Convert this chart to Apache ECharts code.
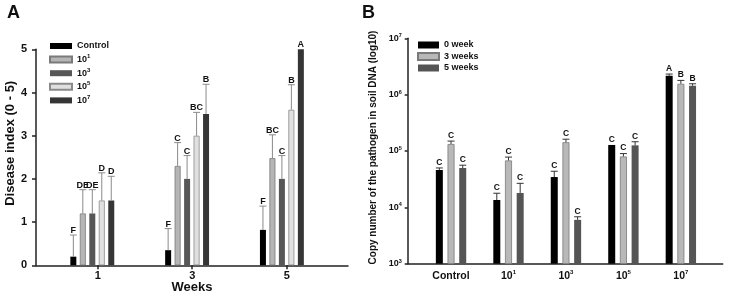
<!DOCTYPE html>
<html>
<head>
<meta charset="utf-8">
<script src="https://cdn.jsdelivr.net/npm/echarts@6/dist/echarts.min.js"></script>
<style>
html, body { margin: 0; padding: 0; background: #fff; }
#chart { width: 729px; height: 297px; }
</style>
</head>
<body>
<div id="chart"></div>
<script>
// ---- panel A: disease index by week ----
const weeks = [1, 3, 5];
const doseNames = ['Control', '10^1', '10^3', '10^5', '10^7'];
const controlIndex = [0.2, 0.35, 0.82];
const dose1Index = [1.2, 2.3, 2.48];
const dose3Index = [1.2, 2.0, 2.0];
const dose5Index = [1.5, 3.0, 3.6];
const dose7Index = [1.5, 3.5, 5.0];
const controlErr = [0.5, 0.5, 0.55];
const dose1Err = [0.55, 0.54, 0.54];
const dose3Err = [0.55, 0.54, 0.54];
const dose5Err = [0.64, 0.54, 0.58];
const dose7Err = [0.56, 0.69, 0];
const controlLetters = ['F', 'F', 'F'];
const dose1Letters = ['DE', 'C', 'BC'];
const dose3Letters = ['DE', 'C', 'C'];
const dose5Letters = ['D', 'BC', 'B'];
const dose7Letters = ['D', 'B', 'A'];

// ---- panel B: copy number in soil DNA ----
const treatments = ['Control', '10^1', '10^3', '10^5', '10^7'];
const timeNames = ['0 week', '3 weeks', '5 weeks'];
const week0Copies = [4.6e4, 1.35e4, 3.45e4, 1.28e5, 2.17e6];
const week3Copies = [1.33e5, 6.8e4, 1.43e5, 8.0e4, 1.56e6];
const week5Copies = [5.0e4, 1.8e4, 6.0e3, 1.26e5, 1.44e6];
const week0Err = [4e3, 4.3e3, 9.2e3, 0, 1.5e5];
const week3Err = [1.7e4, 1e4, 1.9e4, 1e4, 2.3e5];
const week5Err = [6e3, 8.7e3, 8e2, 2e4, 1.2e5];
const week0Letters = ['C', 'C', 'C', 'C', 'A'];
const week3Letters = ['C', 'C', 'C', 'C', 'B'];
const week5Letters = ['C', 'C', 'C', 'C', 'B'];

const FONT = '"Liberation Sans", Arial, sans-serif';
const AXIS = { color: '#222', width: 1.5 };

// "10^3" -> rich text with superscript
function sup(s) {
  const p = String(s).split('^');
  return p.length > 1 ? '{b|' + p[0] + '}{s|' + p[1] + '}' : '{b|' + s + '}';
}
function richStyle(size, supSize, lh) {
  return {
    b: { fontSize: size, fontWeight: 'bold', fontFamily: FONT, color: '#111', lineHeight: lh },
    s: { fontSize: supSize, fontWeight: 'bold', fontFamily: FONT, color: '#111', verticalAlign: 'top', lineHeight: supSize + 1 }
  };
}

// error bar (upper half only) + letter, positioned on bar k of n
function errSeries(name, axisIdx, means, errs, letters, k, n, barW, gap, capW, color, fontSize, lift) {
  return {
    type: 'custom',
    name: name,
    xAxisIndex: axisIdx,
    yAxisIndex: axisIdx,
    z: 5,
    silent: true,
    data: means.map((m, i) => [i, m, m + errs[i], errs[i]]),
    renderItem: function (params, api) {
      const base = api.coord([api.value(0), api.value(1)]);
      const top = api.coord([api.value(0), api.value(2)]);
      const total = n * barW + (n - 1) * barW * gap;
      const cx = base[0] - total / 2 + barW / 2 + k * barW * (1 + gap);
      const children = [];
      if (api.value(3) > 0) {
        children.push({ type: 'line', shape: { x1: cx, y1: base[1], x2: cx, y2: top[1] }, style: { stroke: color, lineWidth: 1 } });
        children.push({ type: 'line', shape: { x1: cx - capW / 2, y1: top[1], x2: cx + capW / 2, y2: top[1] }, style: { stroke: color, lineWidth: 1 } });
      }
      children.push({
        type: 'text',
        x: cx, y: top[1] - lift,
        style: {
          text: letters[params.dataIndex],
          fill: '#111', fontSize: fontSize, fontWeight: 'bold', fontFamily: FONT,
          align: 'center', verticalAlign: 'bottom'
        }
      });
      return { type: 'group', children: children };
    }
  };
}

const chart = echarts.init(document.getElementById('chart'));

const aMeans = [controlIndex, dose1Index, dose3Index, dose5Index, dose7Index];
const aErrs = [controlErr, dose1Err, dose3Err, dose5Err, dose7Err];
const aLetters = [controlLetters, dose1Letters, dose3Letters, dose5Letters, dose7Letters];
const aStyles = [
  { color: '#000' },
  { color: '#b5b5b5', borderColor: '#7a7a7a', borderWidth: 0.8 },
  { color: '#575757' },
  { color: '#e0e0e0', borderColor: '#8a8a8a', borderWidth: 0.8 },
  { color: '#353535' }
];
const bMeans = [week0Copies, week3Copies, week5Copies];
const bErrs = [week0Err, week3Err, week5Err];
const bLetters = [week0Letters, week3Letters, week5Letters];
const bStyles = [
  { color: '#000' },
  { color: '#b8b8b8', borderColor: '#7a7a7a', borderWidth: 0.8 },
  { color: '#555' }
];

const series = [];
doseNames.forEach((name, k) => {
  series.push({
    type: 'bar', name: name, xAxisIndex: 0, yAxisIndex: 0,
    data: aMeans[k], barWidth: 6, barGap: '58%', itemStyle: aStyles[k], silent: true
  });
});
doseNames.forEach((name, k) => {
  series.push(errSeries('errA' + k, 0, aMeans[k], aErrs[k], aLetters[k], k, 5, 6, 0.58, 7, '#8a8a8a', 9, 0));
});
timeNames.forEach((name, k) => {
  series.push({
    type: 'bar', name: name, xAxisIndex: 2, yAxisIndex: 2,
    data: bMeans[k], barWidth: 7, barGap: '67%', itemStyle: bStyles[k], silent: true
  });
});
timeNames.forEach((name, k) => {
  series.push(errSeries('errB' + k, 2, bMeans[k], bErrs[k], bLetters[k], k, 3, 7, 0.67, 7, '#333', 8.5, 1));
});

const option = {
  animation: false,
  backgroundColor: '#fff',
  title: [
    { text: 'A', left: 7, top: 4, padding: 0, textStyle: { fontSize: 18, fontWeight: 'bold', fontFamily: FONT, color: '#111' } },
    { text: 'B', left: 362, top: 4, padding: 0, textStyle: { fontSize: 18, fontWeight: 'bold', fontFamily: FONT, color: '#111' } }
  ],
  legend: [
    {
      data: doseNames, orient: 'vertical', left: 49, top: 41.5, padding: 0,
      itemWidth: 22, itemHeight: 6, itemGap: 3.1, icon: 'rect',
      formatter: sup, textStyle: { rich: richStyle(9, 6, 12) }
    },
    {
      data: timeNames, orient: 'vertical', left: 417, top: 40.5, padding: 0,
      itemWidth: 21, itemHeight: 7, itemGap: 2.5, icon: 'rect',
      formatter: sup, textStyle: { rich: richStyle(9, 6, 12) }
    }
  ],
  grid: [
    { left: 44.9, right: 399.7, top: 49.3, bottom: 31.7, outerBoundsMode: 'none', containLabel: false },
    { left: 36, right: 381, top: 49.3, bottom: 31.7, outerBoundsMode: 'none', containLabel: false },
    { left: 422.3, right: 19.4, top: 38.3, bottom: 33.3, outerBoundsMode: 'none', containLabel: false },
    { left: 407.7, right: 6.3, top: 38.3, bottom: 33.3, outerBoundsMode: 'none', containLabel: false }
  ],
  xAxis: [
    { gridIndex: 0, type: 'category', data: weeks.map(String), show: false },
    {
      gridIndex: 1, type: 'value', min: -0.306, max: 6.297,
      axisLine: { onZero: false, lineStyle: AXIS },
      axisTick: { customValues: weeks, length: 4, lineStyle: AXIS },
      axisLabel: { customValues: weeks, margin: 5, fontSize: 11, fontWeight: 'bold', fontFamily: FONT, color: '#111' },
      splitLine: { show: false },
      name: 'Weeks', nameLocation: 'middle', nameGap: 15.5, nameMoveOverlap: false,
      nameTextStyle: { fontSize: 13, fontWeight: 'bold', fontFamily: FONT, color: '#111' }
    },
    {
      gridIndex: 2, type: 'category', data: treatments,
      axisLine: { show: false },
      axisTick: { alignWithLabel: true, length: 3, lineStyle: AXIS },
      axisLabel: { interval: 0, margin: 6, formatter: sup, rich: richStyle(10.5, 6, 12) }
    },
    {
      gridIndex: 3, type: 'value', min: 0, max: 1,
      axisLine: { onZero: false, lineStyle: AXIS },
      axisTick: { show: false }, axisLabel: { show: false }, splitLine: { show: false }
    }
  ],
  yAxis: [
    { gridIndex: 0, type: 'value', min: 0, max: 5, show: false },
    {
      gridIndex: 1, type: 'value', min: 0, max: 5, interval: 1,
      axisLine: { show: true, onZero: false, lineStyle: AXIS },
      axisTick: { show: true, length: 4, lineStyle: AXIS },
      axisLabel: { margin: 9, fontSize: 11, fontWeight: 'bold', fontFamily: FONT, color: '#111' },
      splitLine: { show: false },
      name: 'Disease index (0 - 5)', nameLocation: 'middle', nameGap: 17,
      nameTextStyle: { fontSize: 13, fontWeight: 'bold', fontFamily: FONT, color: '#111', padding: [0, 0, 0, 28] }
    },
    { gridIndex: 2, type: 'log', min: 1e3, max: 1e7, show: false },
    {
      gridIndex: 3, type: 'log', logBase: 10, min: 1e3, max: 1e7,
      axisLine: { show: true, onZero: false, lineStyle: AXIS },
      axisTick: { show: true, length: 3, lineStyle: AXIS },
      axisLabel: {
        margin: 6,
        formatter: v => sup('10^' + Math.round(Math.log10(v))),
        rich: richStyle(9, 5.5, 11)
      },
      splitLine: { show: false },
      name: 'Copy number of the pathogen in soil DNA (log10)', nameLocation: 'middle', nameGap: 29,
      nameTextStyle: { fontSize: 10, fontWeight: 'bold', fontFamily: FONT, color: '#111', padding: [0, 0, 0, 7] }
    }
  ],
  series: series
};

chart.setOption(option);
</script>
</body>
</html>
